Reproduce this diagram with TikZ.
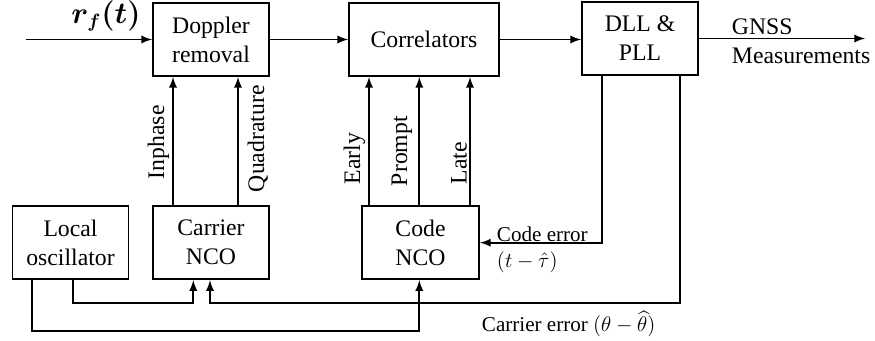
\documentclass[tikz,border=0pt]{standalone}
\usepackage{amsmath}
\usepackage{bm}
\usepackage{fontspec}
\setmainfont{Liberation Serif}
\usetikzlibrary{calc,positioning,arrows}

\begin{document}
\begin{tikzpicture}[x=0.02cm, y=-0.02cm, >=latex, line width=1.1pt,
  blk/.style={draw, align=center, minimum width=2.32cm, minimum height=1.46cm, font=\fontsize{13.5}{16.5}\selectfont},
  vlab/.style={rotate=90, anchor=base west, inner sep=0pt, font=\fontsize{13.5}{16}\selectfont},
  elab/.style={align=left, inner sep=0pt, font=\fontsize{12}{14.5}\selectfont}]
  \useasboundingbox (0,0) rectangle (875,341);

  % blocks
  \node[blk] (dop) at (211,39.5) {Doppler\\removal};
  \node[blk, minimum width=3cm] (corr) at (424,39.5) {Correlators};
  \node[blk] (dll) at (640,38.5) {DLL \&\\PLL};
  \node[blk] (lo) at (70.5,242.7) {Local\\oscillator};
  \node[blk] (cnco) at (211,242.7) {Carrier\\NCO};
  \node[blk, minimum width=2.34cm] (knco) at (420.5,242.7) {Code\\NCO};

  % ends, columns and rows of the wires
  \coordinate (in) at (26,39.5);
  \coordinate (out) at (865,38.5);
  \coordinate (ci) at (173,0);
  \coordinate (cq) at (238,0);
  \coordinate (ce) at (369,0);
  \coordinate (cp) at (419.3,0);
  \coordinate (cl) at (470,0);
  \coordinate (ccode) at (601.7,0);
  \coordinate (ccar) at (680,0);
  \coordinate (clo1) at (31.7,0);
  \coordinate (clo2) at (73.3,0);
  \coordinate (cn1) at (193.3,0);
  \coordinate (cn2) at (210,0);
  \coordinate (r1) at (0,303.3);
  \coordinate (r2) at (0,330.7);

  % top chain
  \draw[->] (in) -- (dop.west);
  \draw[->] (dop) -- (corr);
  \draw[->] (corr.east) -- (corr.east -| dll.west);
  \draw[->] (dll.east) -- (out);
  \node[inner sep=0pt, font=\fontsize{16}{19}\selectfont] (rf) at (106,16) {$\bm{r_f(t)}$};
  \node[elab, anchor=west, font=\fontsize{13.5}{16.5}\selectfont] (meas) at (731,41) {GNSS\\Measurements};

  % NCO outputs
  \draw[->] (cnco.north -| ci) -- (dop.south -| ci);
  \draw[->] (cnco.north -| cq) -- (dop.south -| cq);
  \draw[->] (knco.north -| ce) -- (corr.south -| ce);
  \draw[->] (knco.north -| cp) -- (corr.south -| cp);
  \draw[->] (knco.north -| cl) -- (corr.south -| cl);
  \node[vlab] (inph) at (164,180) {Inphase};
  \node[vlab] (quad) at (264,193) {Quadrature};
  \node[vlab] (early) at (360,185) {Early};
  \node[vlab] (prompt) at (407,187) {Prompt};
  \node[vlab] (late) at (466.5,185) {Late};

  % feedback
  \draw[->] (dll.south -| ccode) |- (knco.east);
  \draw[->] (dll.south -| ccar) |- (r1 -| cn2) -- (cnco.south -| cn2);
  \draw[->] (lo.south -| clo2) |- (r1 -| cn1) -- (cnco.south -| cn1);
  \draw[->] (lo.south -| clo1) |- (r2 -| cp) -- (knco.south -| cp);
  \node[elab, anchor=west] (coderr) at (496,250) {Code error\\$(t-\hat{\tau})$};
  \node[elab, anchor=west] (carerr) at (481,324) {Carrier error $(\theta-\widehat{\theta})$};
\end{tikzpicture}
\end{document}
